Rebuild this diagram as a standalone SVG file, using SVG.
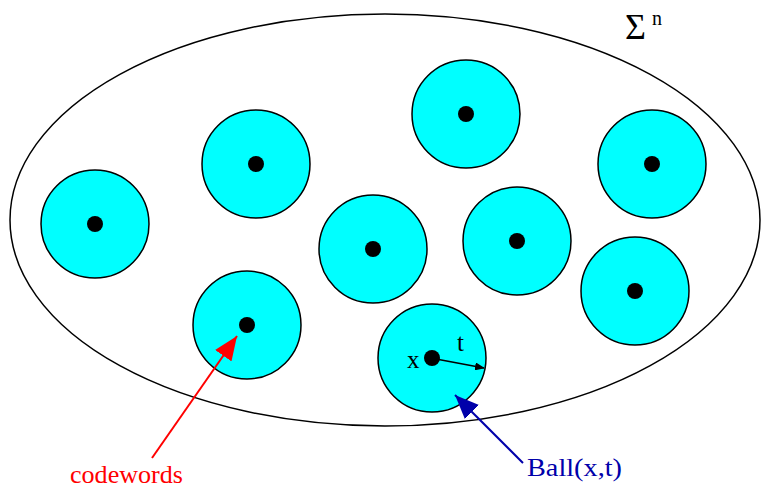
<svg xmlns="http://www.w3.org/2000/svg" width="762" height="489" viewBox="0 0 762 489">
<defs>
<style>
.ball{fill:#00ffff;stroke:#000;stroke-width:1.5}
.dot{fill:#000}
.t{font-family:"Liberation Serif",serif}
</style>
<marker id="mr" markerWidth="10" markerHeight="8" refX="9" refY="4" orient="auto" markerUnits="userSpaceOnUse"><path d="M0,0L10,4L0,8Z" fill="#000"/></marker>
<marker id="red" markerWidth="24" markerHeight="20" refX="24" refY="10" orient="auto" markerUnits="userSpaceOnUse"><path d="M0,0L24,10L0,20Z" fill="#ff0000"/></marker>
<marker id="blue" markerWidth="24" markerHeight="20" refX="24" refY="10" orient="auto" markerUnits="userSpaceOnUse"><path d="M0,0L24,10L0,20Z" fill="#0000aa"/></marker>
</defs>
<rect width="762" height="489" fill="#fff"/>
<g id="space">
<ellipse cx="385" cy="220" rx="375" ry="206" fill="none" stroke="#000" stroke-width="1.5"/>
<text class="t" x="625" y="39" font-size="36">Σ</text>
<text class="t" x="652" y="25" font-size="20">n</text>
</g>
<g id="b1"><circle class="ball" cx="95" cy="224" r="54"/><circle class="dot" cx="95" cy="224" r="8"/></g>
<g id="b2"><circle class="ball" cx="256" cy="164" r="54"/><circle class="dot" cx="256" cy="164" r="8"/></g>
<g id="b3"><circle class="ball" cx="466" cy="114" r="54"/><circle class="dot" cx="466" cy="114" r="8"/></g>
<g id="b4"><circle class="ball" cx="652" cy="164" r="54"/><circle class="dot" cx="652" cy="164" r="8"/></g>
<g id="b5"><circle class="ball" cx="373" cy="249" r="54"/><circle class="dot" cx="373" cy="249" r="8"/></g>
<g id="b6"><circle class="ball" cx="517" cy="241" r="54"/><circle class="dot" cx="517" cy="241" r="8"/></g>
<g id="b7"><circle class="ball" cx="635" cy="291" r="54"/><circle class="dot" cx="635" cy="291" r="8"/></g>
<g id="b8"><circle class="ball" cx="247" cy="325" r="54"/><circle class="dot" cx="247" cy="325" r="8"/></g>
<g id="b9"><circle class="ball" cx="432" cy="358" r="54"/><circle class="dot" cx="432" cy="358" r="8"/>
<text class="t" x="407" y="368" font-size="25">x</text>
<text class="t" x="457" y="351" font-size="25">t</text>
</g>
<g id="connectors">
<line x1="436" y1="359" x2="484" y2="368" stroke="#000" stroke-width="1.5" marker-end="url(#mr)"/>
<line x1="152" y1="458" x2="237" y2="336" stroke="#ff0000" stroke-width="2" marker-end="url(#red)"/>
<line x1="523" y1="463" x2="455" y2="395" stroke="#0000aa" stroke-width="2" marker-end="url(#blue)"/>
</g>
<text class="t" x="70" y="483" font-size="26" textLength="113" lengthAdjust="spacingAndGlyphs" fill="#ff0000">codewords</text>
<text class="t" x="527" y="476" font-size="26" textLength="95" lengthAdjust="spacingAndGlyphs" fill="#0000aa">Ball(x,t)</text>
</svg>
